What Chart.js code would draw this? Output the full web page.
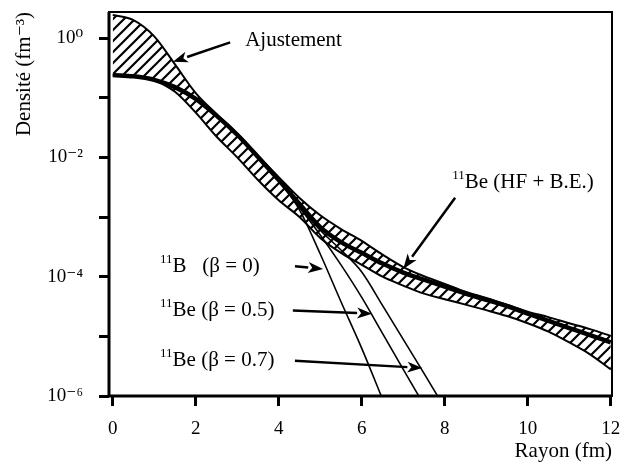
<!DOCTYPE html>
<html>
<head>
<meta charset="utf-8">
<script src="https://cdn.jsdelivr.net/npm/chart.js@4/dist/chart.umd.min.js"></script>
<style>
  body { margin: 0; background: #fff; }
  #wrap { width: 631px; height: 469px; position: relative; }
</style>
</head>
<body>
<div id="wrap"><canvas id="chart"></canvas></div>
<script>
// radius grid (fm) for the fit band and the HF + B.E. curve
const radius = [0, 0.5, 1, 1.5, 2, 2.5, 3, 3.5, 4, 4.5, 5, 5.5, 6, 6.5, 7, 7.5, 8, 8.5, 9, 9.5, 10, 10.5, 11, 11.5, 12];

// "Ajustement" band, upper and lower edges (fm^-3)
const fitUpper = [2.45, 2.0, 1.07, 0.363, 0.12, 0.0537, 0.0251, 0.0107, 4.68e-3, 2.09e-3, 1.07e-3, 6.3e-4, 3.98e-4, 2.34e-4, 1.45e-4, 1.02e-4, 7.6e-5, 5.6e-5, 4.4e-5, 3.4e-5, 2.6e-5, 2.1e-5, 1.66e-5, 1.32e-5, 1.02e-5];
const fitLower = [0.24, 0.229, 0.195, 0.126, 0.0562, 0.0224, 0.01, 4.17e-3, 1.91e-3, 1.0e-3, 4.47e-4, 2.51e-4, 1.58e-4, 1.0e-4, 7.1e-5, 5.2e-5, 4.2e-5, 3.4e-5, 2.75e-5, 2.19e-5, 1.66e-5, 1.2e-5, 7.9e-6, 5.0e-6, 2.8e-6];

// 11Be (HF + B.E.)
const hfBe = [0.24, 0.229, 0.2, 0.151, 0.0955, 0.0501, 0.024, 0.0102, 4.17e-3, 1.66e-3, 6.8e-4, 3.8e-4, 2.51e-4, 1.66e-4, 1.17e-4, 8.9e-5, 6.8e-5, 5.2e-5, 4.1e-5, 3.2e-5, 2.4e-5, 1.82e-5, 1.38e-5, 1.05e-5, 7.9e-6];

// 11B (beta = 0)
const radiusB0 = [4, 4.5, 5, 5.5, 6, 6.5];
const b11Beta0 = [4.17e-3, 1.32e-3, 2.4e-4, 3.8e-5, 6.3e-6, 8.9e-7];

// 11Be (beta = 0.5)
const radiusBe05 = [4, 4.5, 5, 5.5, 6, 6.5, 7, 7.5];
const be11Beta05 = [4.17e-3, 1.45e-3, 5.0e-4, 1.58e-4, 4.5e-5, 1.12e-5, 2.8e-6, 7.1e-7];

// 11Be (beta = 0.7)
const radiusBe07 = [4, 4.5, 5, 5.5, 6, 6.5, 7, 7.5, 8];
const be11Beta07 = [4.17e-3, 1.51e-3, 6.0e-4, 2.8e-4, 1.2e-4, 3.3e-5, 8.9e-6, 2.4e-6, 6.3e-7];

const xTicks = [0, 2, 4, 6, 8, 10, 12];
const yTicks = [1, 1e-1, 1e-2, 1e-3, 1e-4, 1e-5, 1e-6];
const yTickLabels = ["10⁰", "", "10⁻²", "", "10⁻⁴", "", "10⁻⁶"];

// annotations: label anchor (left, middle) and arrow tail -> head, in data units
const notes = [
    { sup: "",   text: "Ajustement",     x: 3.19, y: 0.93,   from: [2.83, 0.85],   to: [1.45, 0.40] },
    { sup: "11", text: "Be (HF + B.E.)", x: 8.18, y: 3.8e-3, from: [8.25, 2.1e-3], to: [7.0, 1.35e-4] },
    { sup: "11", text: "B   (β = 0)",    x: 1.14, y: 1.5e-4, from: [4.39, 1.5e-4], to: [5.07, 1.35e-4] },
    { sup: "11", text: "Be (β = 0.5)",   x: 1.14, y: 2.7e-5, from: [4.34, 2.7e-5], to: [6.25, 2.4e-5] },
    { sup: "11", text: "Be (β = 0.7)",   x: 1.14, y: 3.9e-6, from: [4.39, 3.9e-6], to: [7.46, 2.95e-6] }
];

const serif = "'Liberation Serif', 'DejaVu Serif', serif";

function pts(xs, ys) {
    return xs.map((x, i) => ({ x: x, y: ys[i] }));
}

function makeHatch() {
    const c = document.createElement("canvas");
    const s = 11;
    c.width = s; c.height = s;
    const g = c.getContext("2d");
    g.strokeStyle = "#000";
    g.lineWidth = 2.2;
    g.beginPath();
    g.moveTo(0, s); g.lineTo(s, 0);
    g.moveTo(-2, 2); g.lineTo(2, -2);
    g.moveTo(s - 2, s + 2); g.lineTo(s + 2, s - 2);
    g.stroke();
    return g.createPattern(c, "repeat");
}

function drawArrow(ctx, x0, y0, x1, y1) {
    const a = Math.atan2(y1 - y0, x1 - x0);
    const len = 15, half = 5.5;
    const bx = x1 - len * Math.cos(a), by = y1 - len * Math.sin(a);
    ctx.beginPath();
    ctx.moveTo(x0, y0);
    ctx.lineTo(bx, by);
    ctx.stroke();
    ctx.beginPath();
    ctx.moveTo(x1, y1);
    ctx.lineTo(bx + half * Math.sin(a), by - half * Math.cos(a));
    ctx.lineTo(bx + 4 * Math.cos(a), by + 4 * Math.sin(a));
    ctx.lineTo(bx - half * Math.sin(a), by + half * Math.cos(a));
    ctx.closePath();
    ctx.fill();
}

const notesPlugin = {
    id: "notes",
    afterDraw(chart) {
        const { ctx, chartArea: area, scales: { x, y } } = chart;
        ctx.save();
        ctx.strokeStyle = "#000";
        ctx.fillStyle = "#000";

        // frame
        ctx.lineWidth = 2;
        ctx.strokeRect(area.left, area.top, area.right - area.left, area.bottom - area.top);
        ctx.lineWidth = 3;
        ctx.beginPath();
        ctx.moveTo(area.left, area.top);
        ctx.lineTo(area.left, area.bottom);
        ctx.lineTo(area.right, area.bottom);
        ctx.stroke();

        ctx.lineWidth = 2.5;
        ctx.textBaseline = "middle";
        ctx.textAlign = "left";
        notes.forEach(n => {
            drawArrow(ctx,
                x.getPixelForValue(n.from[0]), y.getPixelForValue(n.from[1]),
                x.getPixelForValue(n.to[0]), y.getPixelForValue(n.to[1]));

            let px = x.getPixelForValue(n.x);
            const py = y.getPixelForValue(n.y);
            if (n.sup) {
                ctx.font = "13px " + serif;
                ctx.fillText(n.sup, px, py - 7);
                px += ctx.measureText(n.sup).width;
            }
            ctx.font = "21px " + serif;
            ctx.fillText(n.text, px, py);
        });
        ctx.restore();
    }
};

const hatch = makeHatch();

new Chart(document.getElementById("chart"), {
    type: "line",
    data: {
        datasets: [
            {
                label: "Ajustement",
                data: pts(radius, fitUpper),
                borderColor: "#000",
                borderWidth: 2,
                backgroundColor: hatch,
                fill: "+1",
                pointRadius: 0,
                cubicInterpolationMode: "monotone"
            },
            {
                label: "Ajustement (bas)",
                data: pts(radius, fitLower),
                borderColor: "#000",
                borderWidth: 2,
                fill: false,
                pointRadius: 0,
                cubicInterpolationMode: "monotone"
            },
            {
                label: "11Be (HF + B.E.)",
                data: pts(radius, hfBe),
                borderColor: "#000",
                borderWidth: 4.5,
                fill: false,
                pointRadius: 0,
                cubicInterpolationMode: "monotone"
            },
            {
                label: "11B (β = 0)",
                data: pts(radiusB0, b11Beta0),
                borderColor: "#000",
                borderWidth: 1.6,
                fill: false,
                pointRadius: 0,
                cubicInterpolationMode: "monotone"
            },
            {
                label: "11Be (β = 0.5)",
                data: pts(radiusBe05, be11Beta05),
                borderColor: "#000",
                borderWidth: 1.6,
                fill: false,
                pointRadius: 0,
                cubicInterpolationMode: "monotone"
            },
            {
                label: "11Be (β = 0.7)",
                data: pts(radiusBe07, be11Beta07),
                borderColor: "#000",
                borderWidth: 1.6,
                fill: false,
                pointRadius: 0,
                cubicInterpolationMode: "monotone"
            }
        ]
    },
    options: {
        responsive: true,
        maintainAspectRatio: false,
        animation: false,
        layout: { padding: { top: 12, right: 19, left: 0, bottom: 0 } },
        plugins: {
            legend: { display: false },
            tooltip: { enabled: false },
            filler: { drawTime: "beforeDatasetsDraw" }
        },
        scales: {
            x: {
                type: "linear",
                min: -0.09,
                max: 12.03,
                afterBuildTicks: s => { s.ticks = xTicks.map(v => ({ value: v })); },
                afterFit: s => { s.height = 73; s.paddingLeft = 0; s.paddingRight = 0; },
                ticks: { color: "#000", font: { family: serif, size: 19 }, padding: 12, maxRotation: 0 },
                grid: { drawOnChartArea: false, tickLength: 10, tickWidth: 3, tickColor: "#000" },
                border: { display: false },
                title: {
                    display: true, text: "Rayon (fm)", align: "end", color: "#000",
                    font: { family: serif, size: 21 }, padding: { top: 0, bottom: 5 }
                }
            },
            y: {
                type: "logarithmic",
                min: 1e-6,
                max: 2.74,
                afterBuildTicks: s => { s.ticks = yTicks.map(v => ({ value: v })); },
                afterFit: s => { s.width = 109; s.paddingTop = 0; s.paddingBottom = 0; },
                ticks: {
                    color: "#000",
                    font: { family: serif, size: 19 },
                    padding: 16,
                    callback: v => {
                        const i = yTicks.findIndex(t => Math.abs(Math.log10(t) - Math.log10(v)) < 1e-6);
                        return i < 0 ? "" : yTickLabels[i];
                    }
                },
                grid: { drawOnChartArea: false, tickLength: 10, tickWidth: 3, tickColor: "#000" },
                border: { display: false },
                title: {
                    display: true, text: "Densité (fm⁻³)", align: "end", color: "#000",
                    font: { family: serif, size: 21 }, padding: { top: 12, bottom: 0 }
                }
            }
        }
    },
    plugins: [notesPlugin]
});
</script>
</body>
</html>
